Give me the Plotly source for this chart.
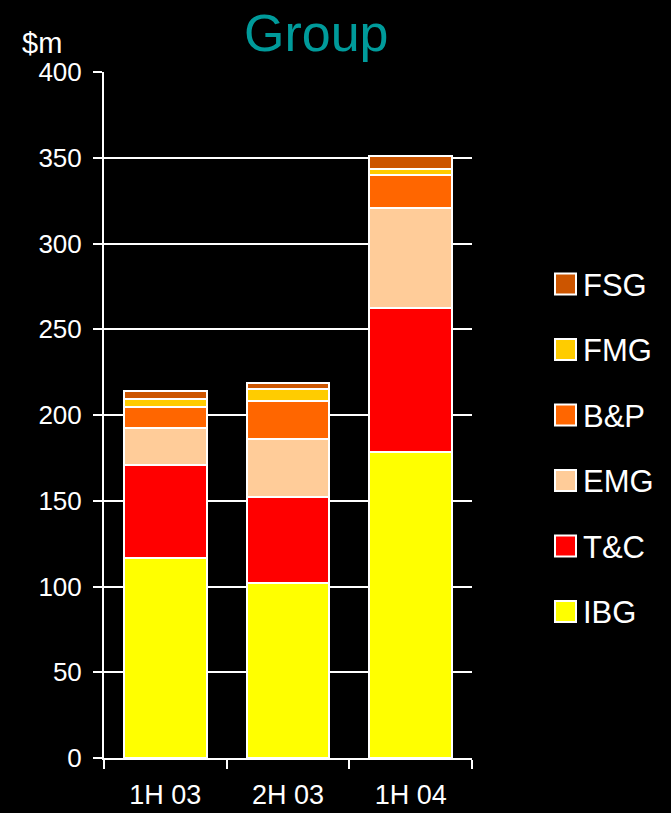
import plotly.graph_objects as go

# Half-year periods on the x axis
periods = ["1H 03", "2H 03", "1H 04"]

# Contribution by business segment, $m (stacked bottom to top)
ibg = [116.6, 101.9, 178.6]
tc = [54.0, 50.3, 83.6]
emg = [21.6, 33.6, 58.3]
bp = [12.3, 22.2, 19.5]
fmg = [4.6, 7.0, 3.3]
fsg = [4.8, 3.5, 7.7]

segment_names = ["IBG", "T&C", "EMG", "B&P", "FMG", "FSG"]
segment_values = [ibg, tc, emg, bp, fmg, fsg]
segment_colors = ["#FFFF00", "#FF0000", "#FFCC99", "#FF6600", "#FFCC00", "#CC5500"]

y_ticks = [0, 50, 100, 150, 200, 250, 300, 350, 400]

FONT = "Liberation Sans, Arial, sans-serif"
W, H = 671, 813
L, R, T, B = 104, 199, 72, 55

fig = go.Figure()
for name, vals, col in zip(segment_names, segment_values, segment_colors):
    fig.add_trace(go.Bar(
        x=periods, y=vals, name=name,
        marker=dict(color=col, line=dict(color="white", width=2)),
        width=0.675, showlegend=False,
    ))

# Legend: square swatch plus label per segment, top entry = top of stack
plot_w = W - L - R
plot_h = H - T - B


def px_x(px):
    return (px - L) / plot_w


def px_y(py):
    return (H - B - py) / plot_h


shapes = []
annotations = []
legend_top = 284
legend_step = 65.5
for i, (name, col) in enumerate(zip(reversed(segment_names), reversed(segment_colors))):
    cy = legend_top + i * legend_step
    shapes.append(dict(
        type="rect", xref="paper", yref="paper",
        x0=px_x(555), x1=px_x(576), y0=px_y(cy + 10.5), y1=px_y(cy - 10.5),
        fillcolor=col, line=dict(color="white", width=2),
    ))
    annotations.append(dict(
        text=name, xref="paper", yref="paper", x=px_x(581), y=px_y(cy + 1),
        xanchor="left", yanchor="middle", showarrow=False,
        font=dict(family=FONT, size=31, color="white"),
    ))

annotations.append(dict(
    text="Group", xref="paper", yref="paper", x=px_x(316), y=px_y(33),
    xanchor="center", yanchor="middle", showarrow=False,
    font=dict(family=FONT, size=52, color="#009B9B"),
))
annotations.append(dict(
    text="$m", xref="paper", yref="paper", x=px_x(20), y=px_y(43),
    xanchor="left", yanchor="middle", showarrow=False,
    font=dict(family=FONT, size=29, color="white"),
))

fig.update_layout(
    width=W, height=H,
    margin=dict(l=L, r=R, t=T, b=B, pad=0),
    paper_bgcolor="black", plot_bgcolor="black",
    barmode="stack",
    showlegend=False,
    shapes=shapes,
    annotations=annotations,
    font=dict(family=FONT, color="white"),
    xaxis=dict(
        type="category", range=[-0.5, 2.5], automargin=False,
        showline=True, linecolor="white", linewidth=2,
        ticks="outside", tickson="boundaries", ticklen=9, tickwidth=2, tickcolor="white",
        showgrid=False, zeroline=False,
        tickfont=dict(family=FONT, size=27, color="white"),
        ticklabelstandoff=12,
    ),
    yaxis=dict(
        range=[0, 400], tickvals=y_ticks, automargin=False,
        showline=True, linecolor="white", linewidth=2,
        ticks="outside", ticklen=9, tickwidth=2, tickcolor="white",
        showgrid=True, gridcolor="white", gridwidth=2,
        zeroline=False,
        tickfont=dict(family=FONT, size=26, color="white"),
        ticklabelstandoff=6,
    ),
)

fig.write_html("out.html")
